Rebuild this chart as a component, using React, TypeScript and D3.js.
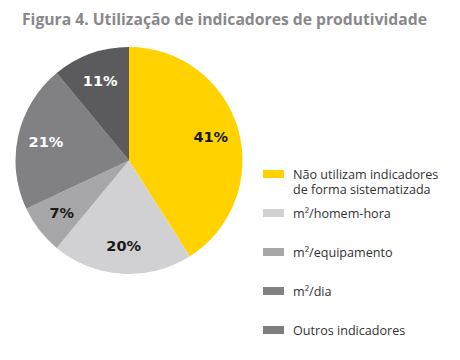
import React, { useEffect, useRef } from "react";
import * as d3 from "d3";

const title = "Figura 4. Utilização de indicadores de produtividade";
const categories = [
  ["Não utilizam indicadores", "de forma sistematizada"],
  ["m²/homem-hora"],
  ["m²/equipamento"],
  ["m²/dia"],
  ["Outros indicadores"],
];
const values = [41, 20, 7, 21, 11];
const sliceColors = ["#ffd200", "#d1d1d3", "#a7a7a9", "#818184", "#5b5b5e"];
const legendColors = ["#ffd200", "#d1d1d3", "#a7a7a9", "#828285", "#7e7e81"];
const labelColors = ["#1a1a1a", "#1a1a1a", "#1a1a1a", "#ffffff", "#ffffff"];

const W = 460;
const H = 360;

const App: React.FC = () => {
  const svgRef = useRef<SVGSVGElement | null>(null);

  useEffect(() => {
    if (!svgRef.current) return;
    const svg = d3.select(svgRef.current);
    svg.selectAll("*").remove();

    svg
      .append("text")
      .attr("x", 22)
      .attr("y", 25)
      .attr("fill", "#88888b")
      .style("font-family", "'Open Sans', sans-serif")
      .style("font-weight", "bold")
      .style("font-size", "15.7px")
      .text(title);

    const cx = 129;
    const cy = 160.5;
    const radius = 113.5;

    const pie = d3
      .pie<number>()
      .sort(null)
      .value((d) => d);
    const arcs = pie(values);

    const arc = d3.arc<d3.PieArcDatum<number>>().innerRadius(0).outerRadius(radius);
    const labelArc = d3
      .arc<d3.PieArcDatum<number>>()
      .innerRadius(radius * 0.75)
      .outerRadius(radius * 0.75);

    const g = svg.append("g").attr("transform", `translate(${cx},${cy})`);

    g.selectAll("path")
      .data(arcs)
      .enter()
      .append("path")
      .attr("d", arc)
      .attr("fill", (_, i) => sliceColors[i]);

    g.selectAll("text")
      .data(arcs)
      .enter()
      .append("text")
      .attr("transform", (d) => `translate(${labelArc.centroid(d)})`)
      .attr("text-anchor", "middle")
      .attr("dy", "0.36em")
      .attr("fill", (_, i) => labelColors[i])
      .style("font-family", "'DejaVu Sans', Verdana, sans-serif")
      .style("font-weight", "bold")
      .style("font-size", "14.5px")
      .text((d) => `${d.data}%`);

    // legend
    const legendY = d3
      .scalePoint<number>()
      .domain(d3.range(categories.length))
      .range([170, 326]);

    const legend = svg
      .append("g")
      .selectAll("g")
      .data(categories)
      .enter()
      .append("g")
      .attr("transform", (_, i) => `translate(263,${legendY(i)})`);

    legend
      .append("rect")
      .attr("width", 21)
      .attr("height", 8)
      .attr("fill", (_, i) => legendColors[i]);

    legend
      .append("text")
      .attr("x", 30)
      .attr("y", 8.5)
      .attr("fill", "#333333")
      .style("font-family", "'Open Sans', sans-serif")
      .style("font-size", "12.6px")
      .selectAll("tspan")
      .data((d) => d)
      .enter()
      .append("tspan")
      .attr("x", 30)
      .attr("dy", (_, j) => (j === 0 ? 0 : 15.5))
      .text((t) => t);
  }, []);

  return (
    <div style={{ position: "absolute", left: 0, top: 0, width: W, height: H, background: "#fff" }}>
      <svg ref={svgRef} width={W} height={H}></svg>
    </div>
  );
};

export default App;
